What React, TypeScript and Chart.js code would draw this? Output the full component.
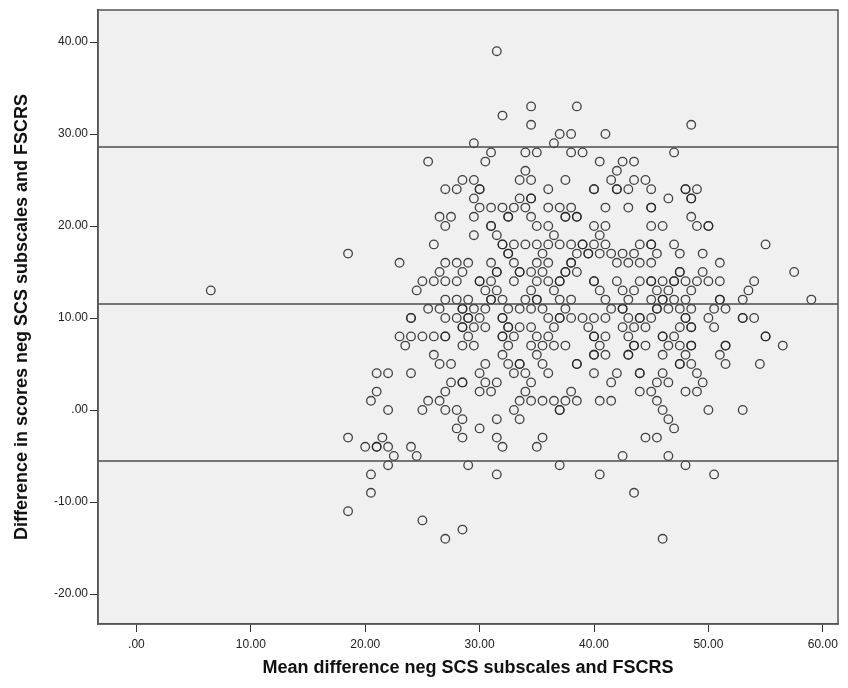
import React, { useEffect, useRef } from 'react';
import { Chart, registerables } from 'chart.js';

Chart.register(...registerables);

// Axis ranges and ticks
const X_MIN = -3.36;
const X_MAX = 61.33;
const Y_MIN = -23.26;
const Y_MAX = 43.48;
const xTickValues = [0, 10, 20, 30, 40, 50, 60];
const yTickValues = [-20, -10, 0, 10, 20, 30, 40];

// Bland-Altman reference lines
const upperLimit = 28.6;
const meanDifference = 11.52;
const lowerLimit = -5.55;

const xTitle = 'Mean difference neg SCS subscales and FSCRS';
const yTitle = 'Difference in scores neg SCS subscales and FSCRS';

// Difference levels (y) and the mean values (x) observed at each level
const diffLevels = [39, 33, 32, 31, 30, 29, 28, 27, 26, 25, 24, 23, 22, 21, 20, 19, 18, 17, 16, 15, 14, 13, 12, 11, 10, 9, 8, 7, 6, 5, 4, 3, 2, 1, 0, -1, -2, -3, -4, -5, -6, -7, -9, -11, -12, -13, -14];
const meansAtLevel: number[][] = [
  [31.5],
  [34.5, 38.5],
  [32],
  [34.5, 48.5],
  [37, 38, 41],
  [29.5, 36.5],
  [31, 34, 35, 38, 39, 47],
  [25.5, 30.5, 40.5, 42.5, 43.5],
  [34, 42],
  [28.5, 29.5, 33.5, 34.5, 37.5, 41.5, 43.5, 44.5],
  [27, 28, 30, 30, 36, 40, 40, 42, 42, 43, 45, 48, 48, 49],
  [29.5, 33.5, 34.5, 34.5, 46.5, 48.5, 48.5],
  [30, 31, 32, 33, 34, 36, 37, 38, 41, 43, 45, 45],
  [26.5, 27.5, 29.5, 32.5, 32.5, 34.5, 37.5, 37.5, 38.5, 38.5, 48.5],
  [27, 31, 31, 35, 36, 40, 41, 45, 46, 49, 50, 50],
  [29.5, 31.5, 36.5, 40.5],
  [26, 32, 32, 33, 34, 35, 36, 37, 38, 39, 39, 40, 41, 44, 45, 45, 47, 55],
  [18.5, 32.5, 32.5, 35.5, 38.5, 39.5, 39.5, 40.5, 41.5, 42.5, 43.5, 45.5, 47.5, 49.5],
  [23, 27, 28, 29, 31, 33, 35, 36, 38, 38, 42, 43, 44, 45, 51],
  [26.5, 28.5, 31.5, 31.5, 33.5, 33.5, 34.5, 35.5, 37.5, 37.5, 38.5, 47.5, 47.5, 49.5, 57.5],
  [25, 26, 27, 28, 30, 30, 31, 33, 35, 36, 37, 37, 40, 40, 42, 44, 45, 45, 46, 47, 47, 48, 49, 50, 51, 54],
  [6.5, 24.5, 30.5, 31.5, 34.5, 36.5, 40.5, 42.5, 43.5, 45.5, 46.5, 48.5, 53.5],
  [27, 28, 29, 31, 31, 32, 34, 35, 35, 37, 38, 41, 43, 45, 46, 46, 47, 48, 51, 51, 53, 59],
  [25.5, 26.5, 28.5, 28.5, 29.5, 30.5, 32.5, 33.5, 34.5, 35.5, 37.5, 41.5, 42.5, 42.5, 45.5, 45.5, 46.5, 47.5, 48.5, 50.5, 51.5],
  [24, 24, 27, 28, 29, 29, 30, 32, 32, 36, 37, 37, 38, 39, 40, 41, 43, 44, 44, 45, 48, 48, 50, 53, 53, 54],
  [28.5, 28.5, 29.5, 30.5, 32.5, 32.5, 33.5, 34.5, 36.5, 39.5, 42.5, 43.5, 44.5, 47.5, 48.5, 48.5, 50.5],
  [23, 24, 25, 26, 27, 27, 29, 32, 32, 33, 35, 36, 40, 40, 41, 43, 46, 46, 47, 55, 55],
  [23.5, 28.5, 29.5, 32.5, 34.5, 35.5, 36.5, 37.5, 40.5, 43.5, 43.5, 44.5, 46.5, 47.5, 48.5, 48.5, 51.5, 51.5, 56.5],
  [26, 32, 35, 40, 40, 41, 43, 43, 46, 48, 51],
  [26.5, 27.5, 30.5, 32.5, 33.5, 33.5, 35.5, 38.5, 38.5, 47.5, 47.5, 48.5, 51.5, 54.5],
  [21, 22, 24, 30, 33, 34, 36, 40, 42, 44, 44, 46, 49],
  [27.5, 28.5, 28.5, 30.5, 31.5, 34.5, 41.5, 45.5, 46.5, 49.5],
  [21, 27, 30, 31, 34, 38, 44, 45, 48, 49],
  [20.5, 25.5, 26.5, 33.5, 34.5, 35.5, 36.5, 37.5, 38.5, 40.5, 41.5, 45.5],
  [22, 25, 27, 28, 33, 37, 37, 46, 50, 53],
  [28.5, 31.5, 33.5, 46.5],
  [28, 30, 47],
  [18.5, 21.5, 28.5, 31.5, 35.5, 44.5, 45.5],
  [20, 21, 21, 22, 24, 32, 35],
  [22.5, 24.5, 42.5, 46.5],
  [22, 29, 37, 48],
  [20.5, 31.5, 40.5, 50.5],
  [20.5, 43.5],
  [18.5],
  [25],
  [28.5],
  [27, 46],
];

const FONT = "'Liberation Sans', Arial, sans-serif";
const fmt = (v: number) => (v === 0 ? '.00' : v.toFixed(2));

export default function App() {
  const ref = useRef<HTMLCanvasElement>(null);

  useEffect(() => {
    if (!ref.current) return;
    const points: { x: number; y: number }[] = [];
    diffLevels.forEach((d, i) => meansAtLevel[i].forEach((m) => points.push({ x: m, y: d })));
    const hline = (v: number) => [
      { x: X_MIN, y: v },
      { x: X_MAX, y: v },
    ];
    const lineStyle = {
      showLine: true,
      borderColor: '#4d4d4d',
      borderWidth: 1.5,
      pointRadius: 0,
      fill: false,
    };

    const frame = {
      id: 'frame',
      beforeDraw(c: any) {
        const { ctx, chartArea: a } = c;
        ctx.save();
        ctx.fillStyle = '#ffffff';
        ctx.fillRect(0, 0, c.width, c.height);
        ctx.fillStyle = '#f0f0f0';
        ctx.fillRect(a.left, a.top, a.right - a.left, a.bottom - a.top);
        ctx.restore();
      },
      afterDraw(c: any) {
        const { ctx, chartArea: a } = c;
        ctx.save();
        ctx.strokeStyle = '#555555';
        ctx.lineWidth = 1.5;
        ctx.strokeRect(a.left, a.top, a.right - a.left, a.bottom - a.top);
        ctx.restore();
      },
    };

    const axisCommon = (title: string, titlePadding: any, tickPad: number) => ({
      type: 'linear' as const,
      grid: { drawOnChartArea: false, drawTicks: true, tickLength: 8, color: '#333333', lineWidth: 1 },
      border: { display: true, color: '#555555', width: 1.5 },
      ticks: {
        color: '#222222',
        font: { family: FONT, size: 12 },
        padding: tickPad,
        autoSkip: false,
        maxRotation: 0,
        callback: (v: any) => fmt(Number(v)),
      },
      title: {
        display: true,
        text: title,
        color: '#111111',
        font: { family: FONT, size: 18, weight: 'bold' as const },
        padding: titlePadding,
      },
    });

    const chart = new Chart(ref.current, {
      type: 'scatter',
      data: {
        datasets: [
          { data: hline(upperLimit), ...lineStyle },
          { data: hline(meanDifference), ...lineStyle },
          { data: hline(lowerLimit), ...lineStyle },
          {
            data: points,
            pointRadius: 4.3,
            pointStyle: 'circle',
            borderWidth: 1.3,
            borderColor: 'rgba(35,35,35,0.85)',
            backgroundColor: 'rgba(0,0,0,0)',
          },
        ],
      },
      options: {
        animation: false,
        responsive: false,
        events: [],
        layout: { padding: { top: 10, right: 10, left: 0, bottom: 0 } },
        plugins: { legend: { display: false }, tooltip: { enabled: false } },
        scales: {
          x: {
            ...axisCommon(xTitle, { top: 0, bottom: 9.2 }, 5),
            min: X_MIN,
            max: X_MAX,
            afterBuildTicks: (s: any) => {
              s.ticks = xTickValues.map((v) => ({ value: v }));
            },
            afterFit: (s: any) => {
              s.height = 64;
            },
          },
          y: {
            ...axisCommon(yTitle, { top: 11.2, bottom: 0 }, 2),
            min: Y_MIN,
            max: Y_MAX,
            afterBuildTicks: (s: any) => {
              s.ticks = yTickValues.map((v) => ({ value: v }));
            },
            afterFit: (s: any) => {
              s.width = 98;
            },
          },
        },
      } as any,
      plugins: [frame],
    });
    return () => chart.destroy();
  }, []);

  return (
    <div style={{ position: 'absolute', left: 0, top: 0, width: 848, height: 688, background: '#ffffff' }}>
      <canvas ref={ref} width={848} height={688} style={{ display: 'block', width: 848, height: 688 }} />
    </div>
  );
}
